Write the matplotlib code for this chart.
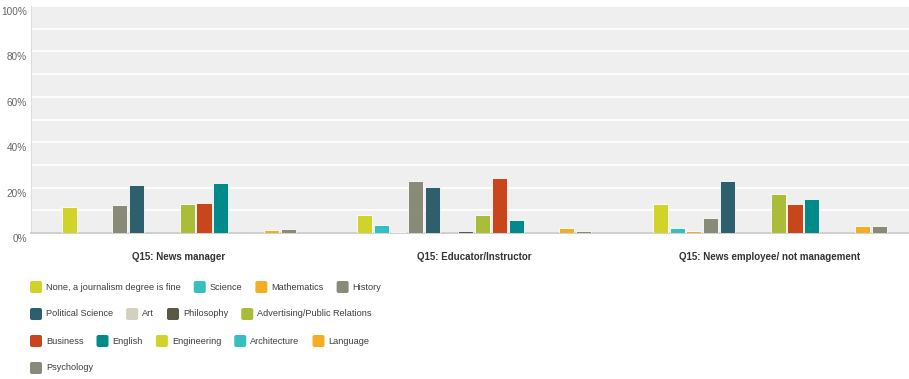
import matplotlib
matplotlib.use("Agg")
import matplotlib.pyplot as plt
import numpy as np
from matplotlib import transforms
from matplotlib.patches import FancyBboxPatch

plt.rcParams["font.family"] = ["Liberation Sans", "DejaVu Sans"]

groups = ["Q15: News manager", "Q15: Educator/Instructor", "Q15: News employee/ not management"]

series = [
    "None, a journalism degree is fine", "Science", "Mathematics", "History",
    "Political Science", "Art", "Philosophy", "Advertising/Public Relations",
    "Business", "English", "Engineering", "Architecture", "Language", "Psychology",
]

colors = [
    "#d0d42a", "#36bfc1", "#f6ad23", "#898a77",
    "#2e5f6c", "#d2d0c0", "#5a5847", "#aabc38",
    "#c9461c", "#008a89", "#d0d42a", "#36bfc1", "#f6ad23", "#898a77",
]

# percent per series, one value per group
news_manager = [11.5, 0, 0, 12.2, 21.0, 0, 0, 12.6, 13.1, 21.9, 0, 0, 1.2, 1.6]
educator = [8.1, 3.7, 0.6, 23.1, 20.1, 0, 0.8, 8.1, 24.1, 5.6, 0, 0, 2.1, 0.7]
news_employee = [12.6, 2.2, 0.7, 6.5, 23.1, 0, 0, 17.0, 12.8, 15.0, 0, 0, 2.9, 2.9]

values = np.array([news_manager, educator, news_employee])

W, H = 909, 379
fig = plt.figure(figsize=(W / 100, H / 100), dpi=100)
fig.patch.set_facecolor("white")

# axes runs off the right edge, like the screenshot
left, right, top, bottom = 31, 917.5, 6, 233
ax = fig.add_axes([left / W, 1 - bottom / H, (right - left) / W, (bottom - top) / H])
ax.set_facecolor("#efefef")

x = np.arange(len(groups))
step = 0.057
width = 0.051
for i, name in enumerate(series):
    off = (i - (len(series) - 1) / 2) * step
    ax.bar(x + off, values[:, i], width=width, color=colors[i],
           edgecolor="white", linewidth=0.6, zorder=3)

ax.set_xlim(-0.5, 2.5)
ax.set_ylim(0, 100)
ax.set_yticks(range(0, 101, 20))
ax.set_yticklabels([f"{v}%" for v in range(0, 101, 20)])
ax.set_yticks(range(0, 101, 10), minor=True)
ax.grid(axis="y", which="both", color="white", linewidth=1.2, zorder=0)
ax.set_xticks(x)
ax.set_xticklabels(groups)

ax.tick_params(axis="y", length=0, pad=3, labelsize=7.2, labelcolor="#666666", which="both")
ax.tick_params(axis="x", length=0, pad=14, labelsize=7, labelcolor="#333333")
for lbl in ax.get_xticklabels():
    lbl.set_fontweight("bold")
shift = transforms.ScaledTranslation(0, -5 / 100, fig.dpi_scale_trans)
for lbl in ax.get_yticklabels():
    lbl.set_transform(lbl.get_transform() + shift)

for s in ["top", "right"]:
    ax.spines[s].set_visible(False)
ax.spines["left"].set_color("#dddddd")
ax.spines["bottom"].set_color("#c8c8c8")
ax.spines["bottom"].set_linewidth(1.2)

# legend, laid out in rows like the original
px = transforms.IdentityTransform()
renderer = fig.canvas.get_renderer()
legend_rows = [4, 4, 5, 1]
x0, sq = 30, 12
k = 0
for r, n in enumerate(legend_rows):
    cx = x0
    yy = H - (287 + 27 * r)
    for name, c in zip(series[k:k + n], colors[k:k + n]):
        fig.patches.append(FancyBboxPatch((cx, yy - sq / 2), sq, sq,
                                          boxstyle="round,pad=0,rounding_size=2",
                                          facecolor=c, edgecolor="none", transform=px))
        t = fig.text(cx + sq + 4, yy, name, fontsize=6.6, color="#3c3c3c",
                     va="center", ha="left", transform=px)
        cx += sq + 4 + t.get_window_extent(renderer).width + 13
    k += n

fig.savefig("out.png", dpi=100)
